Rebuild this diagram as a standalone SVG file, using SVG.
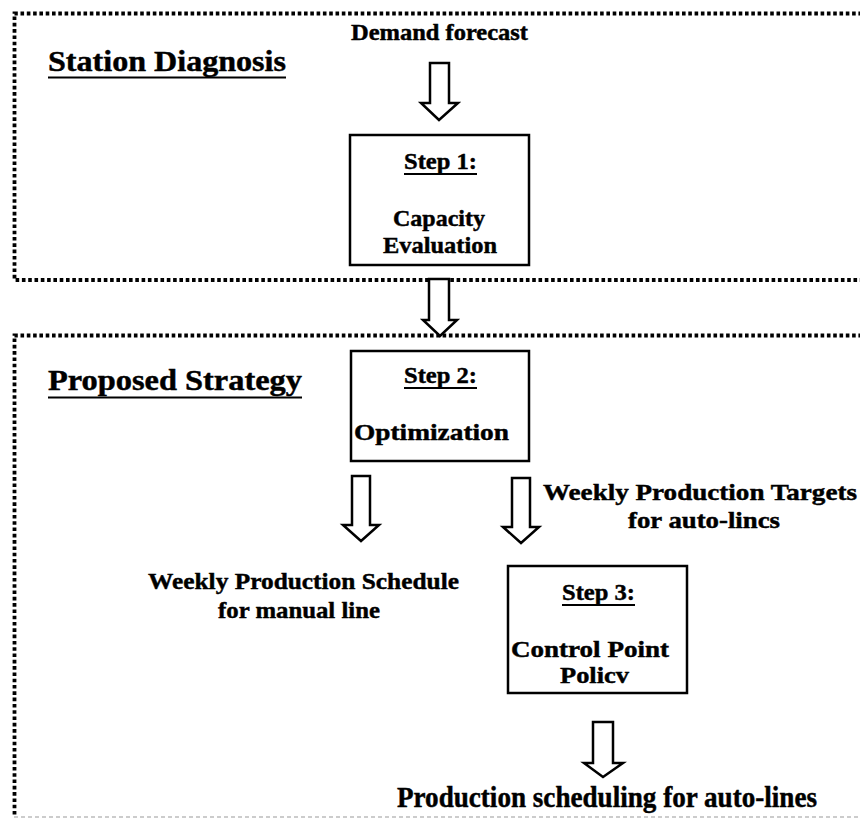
<svg xmlns="http://www.w3.org/2000/svg" width="860" height="818" viewBox="0 0 860 818">
<style>
.dot{fill:none;stroke:#000;stroke-width:3.8;stroke-dasharray:3.6 2.7}
.box{fill:#fff;stroke:#000;stroke-width:2.5}
.arr{fill:#fff;stroke:#000;stroke-width:2.5;stroke-linejoin:miter}
.t{font-family:"Liberation Serif","Times New Roman",serif;font-weight:bold;fill:#000;stroke:#000;stroke-width:0.45}
.ul{stroke:#000;stroke-width:2.2}
</style>
<rect width="860" height="818" fill="#fff"/>
<g id="region-station-diagnosis">
<path class="dot" d="M862,13.5 H14.5 V280 H862"/>
<text class="t" x="48" y="71" font-size="30" textLength="238" lengthAdjust="spacingAndGlyphs">Station Diagnosis</text>
<line class="ul" x1="48" y1="77.5" x2="286" y2="77.5"/>
</g>
<g id="region-proposed-strategy">
<path class="dot" d="M862,335.5 H14.5 V815"/>
<line x1="14" y1="817" x2="860" y2="817" stroke="#999" stroke-width="1.2" stroke-dasharray="4 3"/>
<text class="t" x="48" y="390" font-size="30" textLength="254" lengthAdjust="spacingAndGlyphs">Proposed Strategy</text>
<line class="ul" x1="48" y1="397.5" x2="302" y2="397.5"/>
</g>
<g id="demand-forecast">
<text class="t" x="351" y="40" font-size="22.5" textLength="177" lengthAdjust="spacingAndGlyphs">Demand forecast</text>
</g>
<g id="step1">
<rect class="box" x="350" y="135" width="179" height="130"/>
<text class="t" x="404" y="169" font-size="24" textLength="73" lengthAdjust="spacingAndGlyphs">Step 1:</text>
<line class="ul" x1="404" y1="174" x2="477" y2="174"/>
<text class="t" x="393" y="226" font-size="24" textLength="92" lengthAdjust="spacingAndGlyphs">Capacity</text>
<text class="t" x="383" y="253" font-size="24" textLength="114" lengthAdjust="spacingAndGlyphs">Evaluation</text>
</g>
<g id="step2">
<rect class="box" x="351" y="351" width="178" height="110"/>
<text class="t" x="404" y="383" font-size="24" textLength="73" lengthAdjust="spacingAndGlyphs">Step 2:</text>
<line class="ul" x1="404" y1="388" x2="477" y2="388"/>
<text class="t" x="354" y="440" font-size="24" textLength="155" lengthAdjust="spacingAndGlyphs">Optimization</text>
</g>
<g id="step3">
<rect class="box" x="508" y="566" width="179" height="127"/>
<text class="t" x="562" y="600" font-size="24" textLength="73" lengthAdjust="spacingAndGlyphs">Step 3:</text>
<line class="ul" x1="562" y1="605" x2="635" y2="605"/>
<text class="t" x="511" y="657" font-size="24" textLength="158" lengthAdjust="spacingAndGlyphs">Control Point</text>
<text class="t" x="560" y="683" font-size="24" textLength="69" lengthAdjust="spacingAndGlyphs">Policv</text>
</g>
<g id="weekly-targets">
<text class="t" x="543" y="500" font-size="24" textLength="314" lengthAdjust="spacingAndGlyphs">Weekly Production Targets</text>
<text class="t" x="628" y="528" font-size="24" textLength="152" lengthAdjust="spacingAndGlyphs">for auto-lincs</text>
</g>
<g id="weekly-schedule">
<text class="t" x="148" y="589" font-size="24" textLength="311" lengthAdjust="spacingAndGlyphs">Weekly Production Schedule</text>
<text class="t" x="218" y="618" font-size="24" textLength="162" lengthAdjust="spacingAndGlyphs">for manual line</text>
</g>
<g id="production-scheduling">
<text class="t" x="397" y="807" font-size="29" textLength="420" lengthAdjust="spacingAndGlyphs">Production scheduling for auto-lines</text>
</g>
<g id="connectors">
<polygon class="arr" points="430,63 449,63 449,103 458,103 439,120 421,103 430,103"/>
<polygon class="arr" points="429,279 449,279 449,320 457,320 440,336 423,320 429,320"/>
<polygon class="arr" points="352,476 370,476 370,525 379,525 361,541 343,525 352,525"/>
<polygon class="arr" points="512,478 530,478 530,527 539,527 521,543 503,527 512,527"/>
<polygon class="arr" points="593,722 613,722 613,763 623,763 603,777 584,763 593,763"/>
</g>
</svg>
